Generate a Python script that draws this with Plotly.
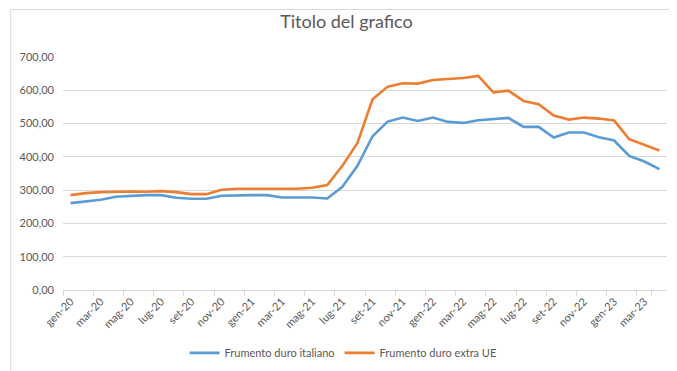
import plotly.graph_objects as go

mesi = ["gen", "feb", "mar", "apr", "mag", "giu", "lug", "ago", "set", "ott", "nov", "dic"]
categorie = [f"{m}-{y}" for y in ["20", "21", "22", "23"] for m in mesi][:40]

italiano = [261, 265, 271, 280, 283, 285, 285, 277, 274, 274,
            283, 285, 285, 285, 278, 278, 278, 275, 310, 373,
            462, 506, 518, 508, 518, 505, 502, 510, 513, 517,
            490, 490, 458, 473, 473, 459, 449, 403, 386, 363]
extra_ue = [285, 291, 294, 296, 296, 295, 297, 294, 288, 288,
            301, 304, 304, 304, 304, 304, 307, 315, 373, 442,
            573, 611, 621, 620, 631, 634, 637, 643, 594, 599,
            568, 558, 524, 512, 518, 515, 509, 453, 437, 419]

tick_labels = categorie[::2]

fig = go.Figure()
fig.add_trace(go.Scatter(x=categorie, y=italiano, mode="lines", name="Frumento duro italiano",
                         line=dict(color="#5B9BD5", width=2.6)))
fig.add_trace(go.Scatter(x=categorie, y=extra_ue, mode="lines", name="Frumento duro extra UE",
                         line=dict(color="#ED7D31", width=2.6)))

fig.update_layout(
    width=677, height=371,
    margin=dict(l=53, r=18, t=49, b=84),
    paper_bgcolor="white", plot_bgcolor="white",
    separators=",.",
    font=dict(family="Lato, Open Sans, sans-serif", color="#595959", size=11),
    title=dict(text="Titolo del grafico", x=0.5, xanchor="center", y=0.963, yanchor="middle",
               font=dict(size=18, color="#595959")),
    showlegend=True,
    legend=dict(orientation="h", x=(334 - 53) / 606, xanchor="center", y=-0.27, yanchor="middle",
                font=dict(size=11, color="#595959"), itemwidth=30),
    shapes=[dict(type="rect", xref="paper", yref="paper", x0=-52.5/606, x1=1 + 17/606,
                 y0=-83.5/238, y1=1 + 48.5/238, line=dict(color="#D9D9D9", width=1))],
)
fig.update_xaxes(type="category", tickmode="array", tickvals=tick_labels, ticktext=tick_labels,
                 tickangle=-45, tickson="boundaries", ticks="outside", ticklen=5,
                 tickcolor="#D9D9D9", showline=True, linecolor="#D9D9D9", linewidth=1,
                 showgrid=False, tickfont=dict(size=11, color="#595959"),
                 range=[-0.5, 39.5])
fig.update_yaxes(range=[0, 700], dtick=100, tickformat=".2f", showgrid=True,
                 gridcolor="#D9D9D9", gridwidth=1, zeroline=False, showline=False,
                 tickfont=dict(size=11, color="#595959"), ticklabelstandoff=8)

fig.write_html("out.html")
